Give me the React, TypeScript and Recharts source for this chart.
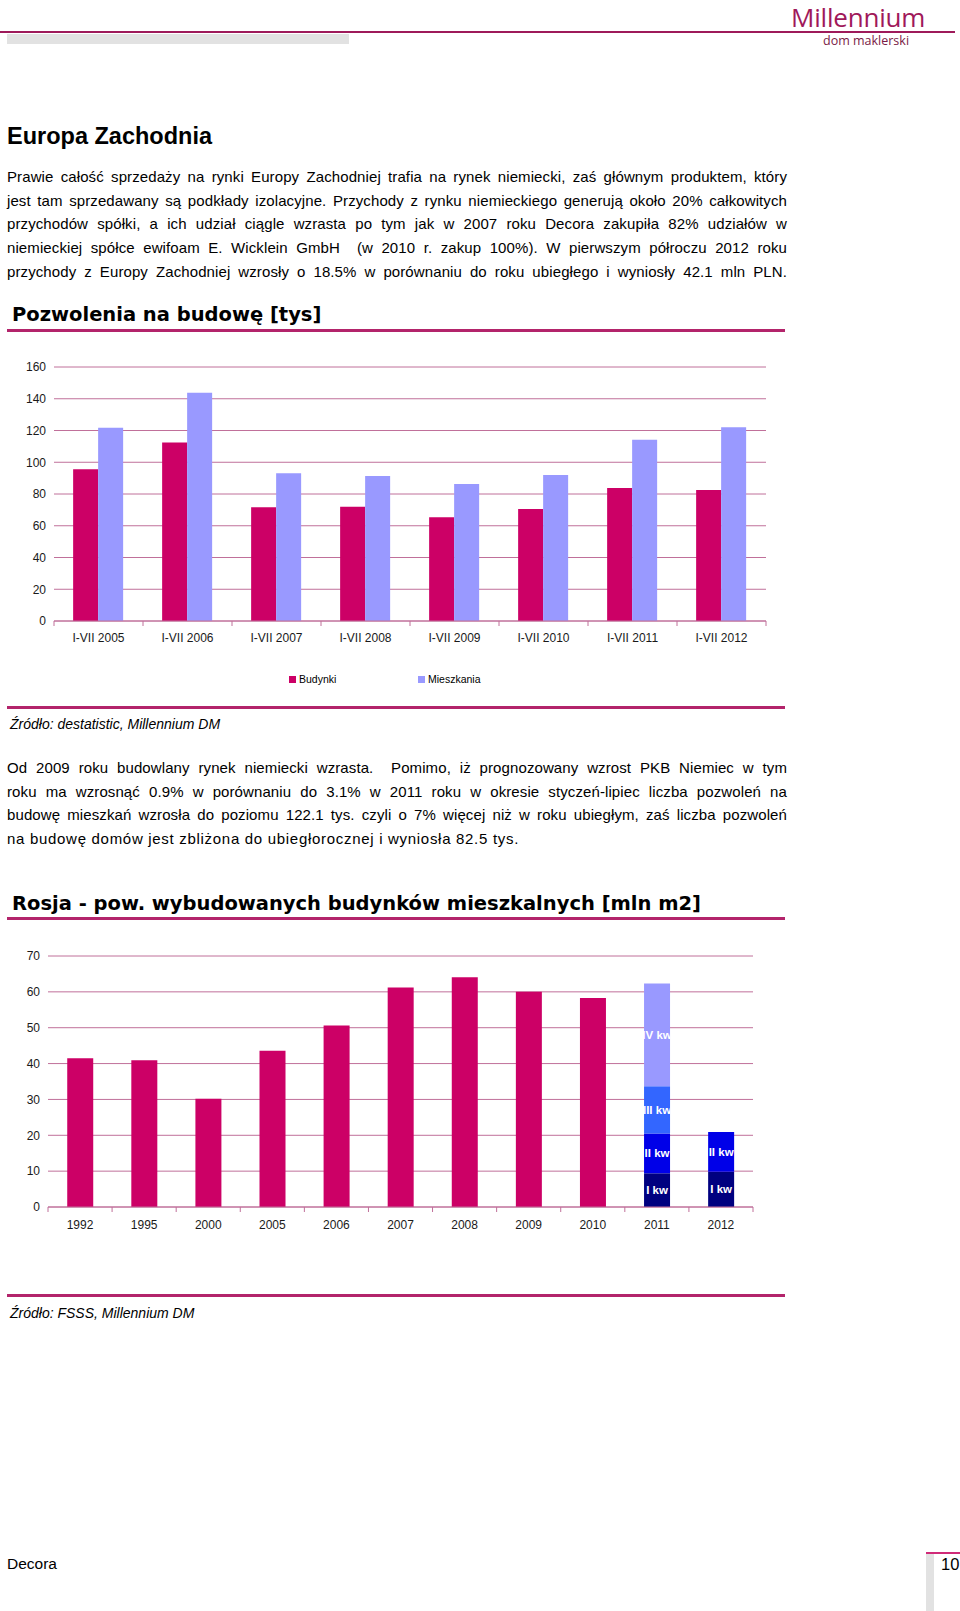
import React from "react";
import { BarChart, Bar, XAxis, YAxis, CartesianGrid, LabelList } from "recharts";

// Pozwolenia na budowę [tys]
const permitPeriods = ["I-VII 2005", "I-VII 2006", "I-VII 2007", "I-VII 2008", "I-VII 2009", "I-VII 2010", "I-VII 2011", "I-VII 2012"];
const budynki = [95.6, 112.4, 71.6, 72.0, 65.3, 70.5, 83.8, 82.5];
const mieszkania = [121.7, 143.8, 93.0, 91.4, 86.3, 92.0, 114.1, 122.1];
const permitTicks = [0, 20, 40, 60, 80, 100, 120, 140, 160];

// Rosja - pow. wybudowanych budynków mieszkalnych [mln m2]
const rusYears = ["1992", "1995", "2000", "2005", "2006", "2007", "2008", "2009", "2010", "2011", "2012"];
const rusTotal = [41.5, 40.9, 30.2, 43.6, 50.6, 61.2, 64.1, 60.0, 58.3, null, null];
const rusQ1 = [null, null, null, null, null, null, null, null, null, 9.4, 9.8];
const rusQ2 = [null, null, null, null, null, null, null, null, null, 11.1, 11.1];
const rusQ3 = [null, null, null, null, null, null, null, null, null, 13.2, null];
const rusQ4 = [null, null, null, null, null, null, null, null, null, 28.6, null];
const quarterNames = ["I kw", "II kw", "III kw", "IV kw"];
const rusTicks = [0, 10, 20, 30, 40, 50, 60, 70];

const permitData = permitPeriods.map((p, i) => ({ cat: p, budynki: budynki[i], mieszkania: mieszkania[i] }));
const rusData = rusYears.map((y, i) => ({ cat: y, total: rusTotal[i], q1: rusQ1[i], q2: rusQ2[i], q3: rusQ3[i], q4: rusQ4[i] }));

const PINK = "#cc0066";
const LAVENDER = "#9999ff";
const GRID = "#c0709a";
const RULE = "#b3246b";
const FONT = "'Liberation Sans', Arial, sans-serif";

function CatTick(props: any) {
  const { x, y, payload, count, dy } = props;
  const off = payload && typeof payload.offset === "number" ? payload.offset : 0;
  const last = payload && payload.index === count - 1;
  return (
    <g>
      {off > 0 && <line x1={x - off} x2={x - off} y1={y} y2={y + 5} stroke={GRID} />}
      {off > 0 && last && <line x1={x + off} x2={x + off} y1={y} y2={y + 5} stroke={GRID} />}
      <text x={x} y={y + dy} textAnchor="middle" fontSize={12} fontFamily={FONT} fill="#1a1a1a">
        {payload.value}
      </text>
    </g>
  );
}

function quarterLabel(name: string) {
  return (p: any) => {
    const { x, y, width, height, value } = p;
    if (value == null || !height || height < 8) return null;
    return (
      <svg x={x} y={y} width={width} height={height} overflow="hidden">
        <text x={width / 2} y={height / 2} textAnchor="middle" dominantBaseline="central" fill="#ffffff" fontSize={11.5} fontWeight="bold" fontFamily={FONT}>
          {name}
        </text>
      </svg>
    );
  };
}

const abs = (top: number, left: number, extra: React.CSSProperties = {}): React.CSSProperties => ({ position: "absolute", top, left, ...extra });

function Line({ top, text, last }: { top: number; text: string; last?: boolean }) {
  return (
    <div
      style={abs(top, 7, {
        width: 780,
        fontSize: 15,
        letterSpacing: last ? 0.7 : 0.1,
        lineHeight: "20px",
        textAlign: "justify",
        textAlignLast: last ? "left" : "justify",
        whiteSpace: "nowrap" as any,
      })}
    >
      {text}
    </div>
  );
}

const para1 = [
  "Prawie całość sprzedaży na rynki Europy Zachodniej trafia na rynek niemiecki, zaś głównym produktem, który",
  "jest tam sprzedawany są podkłady izolacyjne. Przychody z rynku niemieckiego generują około 20% całkowitych",
  "przychodów spółki, a ich udział ciągle wzrasta po tym jak w 2007 roku Decora zakupiła 82% udziałów w",
  "niemieckiej spółce ewifoam E. Wicklein GmbH \u00a0(w 2010 r. zakup 100%). W pierwszym półroczu 2012 roku",
  "przychody z Europy Zachodniej wzrosły o 18.5% w porównaniu do roku ubiegłego i wyniosły 42.1 mln PLN.",
];
const para2 = [
  "Od 2009 roku budowlany rynek niemiecki wzrasta. \u00a0Pomimo, iż prognozowany wzrost PKB Niemiec w tym",
  "roku ma wzrosnąć 0.9% w porównaniu do 3.1% w 2011 roku w okresie styczeń-lipiec liczba pozwoleń na",
  "budowę mieszkań wzrosła do poziomu 122.1 tys. czyli o 7% więcej niż w roku ubiegłym, zaś liczba pozwoleń",
  "na budowę domów jest zbliżona do ubiegłorocznej i wyniosła 82.5 tys.",
];

export default function App() {
  return (
    <div style={{ position: "absolute", top: 0, left: 0, width: 960, height: 1611, background: "#fff", fontFamily: FONT, color: "#000", overflow: "hidden" }}>
      {/* header */}
      <div style={abs(1, 791, { fontFamily: "'Open Sans', sans-serif", fontSize: 26, lineHeight: "32px", color: "#a0185a", letterSpacing: -0.2 })}>Millennium</div>
      <div style={abs(31, 0, { width: 955, height: 2, background: "#9e1a5a" })} />
      <div style={abs(34, 7, { width: 342, height: 10, background: "#e2e2e2" })} />
      <div style={abs(34, 823, { fontFamily: "'Open Sans', sans-serif", fontSize: 12.5, lineHeight: "13px", color: "#7a1a45" })}>dom maklerski</div>

      <div style={abs(122, 7, { fontSize: 23.5, fontWeight: "bold", lineHeight: "29px" })}>Europa Zachodnia</div>
      {para1.map((t, i) => (
        <Line key={i} top={[167, 190.5, 214, 238, 261.5][i]} text={t} />
      ))}

      <div style={abs(303, 12, { fontFamily: "'DejaVu Sans', sans-serif", fontWeight: "bold", fontSize: 19.5, lineHeight: "23px" })}>Pozwolenia na budowę [tys]</div>
      <div style={abs(328.5, 7, { width: 778, height: 3, background: RULE })} />

      <div style={abs(340, 0)}>
        <BarChart width={800} height={310} data={permitData} margin={{ top: 27, right: 34, bottom: 0, left: 0 }} barCategoryGap="21.5%" barGap={0}>
          <CartesianGrid vertical={false} stroke={GRID} />
          <XAxis dataKey="cat" height={29} stroke={GRID} tickLine={false} tickSize={0} tickMargin={0} interval={0} tick={<CatTick count={permitPeriods.length} dy={21} />} />
          <YAxis width={54} domain={[0, 160]} ticks={permitTicks} axisLine={false} tickLine={false} tick={{ fontSize: 12, fill: "#1a1a1a", fontFamily: FONT }} />
          <Bar dataKey="budynki" name="Budynki" fill={PINK} isAnimationActive={false} />
          <Bar dataKey="mieszkania" name="Mieszkania" fill={LAVENDER} isAnimationActive={false} />
        </BarChart>
      </div>

      {/* legend */}
      <div style={abs(672, 289, { display: "flex", alignItems: "center", fontSize: 10.5, lineHeight: "14px" })}>
        <span style={{ width: 7, height: 7, background: PINK, marginRight: 3 }} />
        <span>Budynki</span>
      </div>
      <div style={abs(672, 418, { display: "flex", alignItems: "center", fontSize: 10.5, lineHeight: "14px" })}>
        <span style={{ width: 7, height: 7, background: LAVENDER, marginRight: 3 }} />
        <span>Mieszkania</span>
      </div>

      <div style={abs(705.5, 7, { width: 778, height: 3, background: RULE })} />
      <div style={abs(715, 10, { fontSize: 14, fontStyle: "italic", lineHeight: "18px" })}>Źródło: destatistic, Millennium DM</div>

      {para2.map((t, i) => (
        <Line key={i} top={[758, 781.5, 805, 829][i]} text={t} last={i === para2.length - 1} />
      ))}

      <div style={abs(892, 12, { fontFamily: "'DejaVu Sans', sans-serif", fontWeight: "bold", fontSize: 19.5, lineHeight: "23px" })}>Rosja - pow. wybudowanych budynków mieszkalnych [mln m2]</div>
      <div style={abs(916.5, 7, { width: 778, height: 3, background: RULE })} />

      <div style={abs(930, 0)}>
        <BarChart width={800} height={310} data={rusData} margin={{ top: 26, right: 47, bottom: 0, left: 0 }} barCategoryGap="30%">
          <CartesianGrid vertical={false} stroke={GRID} />
          <XAxis dataKey="cat" height={33} stroke={GRID} tickLine={false} tickSize={0} tickMargin={0} interval={0} tick={<CatTick count={rusYears.length} dy={22} />} />
          <YAxis width={48} domain={[0, 70]} ticks={rusTicks} axisLine={false} tickLine={false} tick={{ fontSize: 12, fill: "#1a1a1a", fontFamily: FONT }} />
          <Bar dataKey="total" stackId="a" fill={PINK} isAnimationActive={false} />
          <Bar dataKey="q1" name={quarterNames[0]} stackId="a" fill="#000080" isAnimationActive={false}>
            <LabelList dataKey="q1" content={quarterLabel(quarterNames[0])} />
          </Bar>
          <Bar dataKey="q2" name={quarterNames[1]} stackId="a" fill="#0000e8" isAnimationActive={false}>
            <LabelList dataKey="q2" content={quarterLabel(quarterNames[1])} />
          </Bar>
          <Bar dataKey="q3" name={quarterNames[2]} stackId="a" fill="#3366ff" isAnimationActive={false}>
            <LabelList dataKey="q3" content={quarterLabel(quarterNames[2])} />
          </Bar>
          <Bar dataKey="q4" name={quarterNames[3]} stackId="a" fill="#9999ff" isAnimationActive={false}>
            <LabelList dataKey="q4" content={quarterLabel(quarterNames[3])} />
          </Bar>
        </BarChart>
      </div>

      <div style={abs(1293.5, 7, { width: 778, height: 3, background: RULE })} />
      <div style={abs(1303.5, 10, { fontSize: 14, fontStyle: "italic", lineHeight: "18px" })}>Źródło: FSSS, Millennium DM</div>

      {/* footer */}
      <div style={abs(1555, 7, { fontSize: 15.5, lineHeight: "18px" })}>Decora</div>
      <div style={abs(1552, 926, { width: 34, height: 2, background: "#d02a78" })} />
      <div style={abs(1554, 926, { width: 8, height: 57, background: "#e2e2e2" })} />
      <div style={abs(1555, 941, { fontSize: 16.5, lineHeight: "18px" })}>10</div>
    </div>
  );
}
